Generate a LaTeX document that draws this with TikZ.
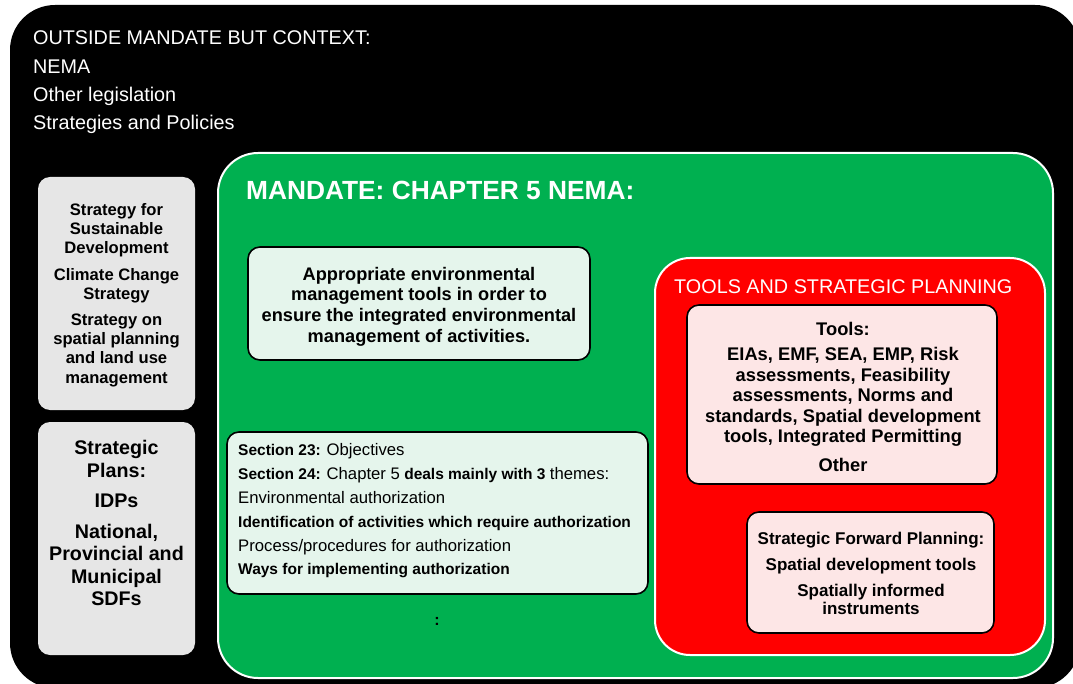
\documentclass[tikz,border=0pt]{standalone}
\usepackage{fontspec}
\setmainfont{Liberation Sans}
\definecolor{mgreen}{HTML}{00B050}
\definecolor{mred}{HTML}{FF0000}
\definecolor{bgray}{HTML}{E6E6E6}
\definecolor{mint}{HTML}{E5F5EC}
\definecolor{pinkbox}{HTML}{FDE6E6}
\newcommand{\regtxt}[1]{{\fontsize{16.7}{23.8}\selectfont #1}}
\begin{document}
\begin{tikzpicture}[x=1pt,y=-1pt,
  panel/.style={inner sep=0pt, rounded corners=#1},
  graybox/.style={fill=bgray, rounded corners=12pt, inner sep=0pt},
  framebox/.style={draw=black, line width=1.6pt, rounded corners=12pt, inner sep=0pt},
  txt/.style={align=center, inner sep=0pt, text=black},
]
\useasboundingbox (0,0) rectangle (1073,684);
\clip (0,0) rectangle (1073,684);
\fill[white] (0,0) rectangle (1073,684);

% outer context panel
\node[panel=45pt, fill=black, minimum width=1070, minimum height=683] (outer) at (545,346.5) {};
\node[anchor=west, align=left, inner sep=0pt, text=white,
      font=\fontsize{19.8}{28.4}\selectfont] (ctx) at (33,82.5)
  {OUTSIDE MANDATE BUT CONTEXT:\\NEMA\\Other legislation\\Strategies and Policies};

% left gray boxes
\node[graybox, minimum width=157, minimum height=233] (g1) at (116.5,293.5) {};
\node[txt, font=\bfseries\fontsize{16.6}{19.2}\selectfont] (g1t) at (116.5,295)
  {Strategy for\\Sustainable\\Development\\[7pt]Climate Change\\Strategy\\[7pt]Strategy on\\spatial planning\\and land use\\management};
\node[graybox, minimum width=157, minimum height=233] (g2) at (116.5,538.5) {};
\node[txt, font=\bfseries\fontsize{19.7}{22.5}\selectfont] (g2t) at (116.5,523)
  {Strategic\\Plans:\\[8pt]IDPs\\[8pt]National,\\Provincial and\\Municipal\\SDFs};

% mandate panel
\node[panel=40pt, fill=mgreen, draw=white, line width=2pt, minimum width=835, minimum height=525] (mandate) at (635.5,415.5) {};
\node[anchor=west, inner sep=0pt, text=white, font=\bfseries\fontsize{26.3}{30}\selectfont] (mtitle) at (246,190)
  {MANDATE: CHAPTER 5 NEMA:};

\node[framebox, fill=mint, minimum width=342, minimum height=113] (approp) at (419,303.5) {};
\node[txt, font=\bfseries\fontsize{18.2}{20.7}\selectfont] (appropt) at (419,306.5)
  {Appropriate environmental\\management tools in order to\\ensure the integrated environmental\\management of activities.};

\node[framebox, fill=mint, minimum width=421, minimum height=162] (sect) at (437.5,513) {};
\node[anchor=west, align=left, inner sep=0pt, font=\bfseries\fontsize{15.5}{23.8}\selectfont] (sectt) at (238,511)
  {Section 23: \regtxt{\mdseries Objectives}\\
   Section 24: \regtxt{\mdseries Chapter 5} deals mainly with 3 \regtxt{\mdseries themes:}\\
   \regtxt{\mdseries Environmental authorization}\\
   Identification of activities which require authorization\\
   \regtxt{\mdseries Process/procedures for authorization}\\
   Ways for implementing authorization};
\node[txt, font=\bfseries\fontsize{16}{19}\selectfont] (colon) at (437,621) {:};

% tools panel
\node[panel=35pt, fill=mred, draw=white, line width=2pt, minimum width=390, minimum height=397] (toolsp) at (850,456.5) {};
\node[anchor=west, inner sep=0pt, text=white, font=\fontsize{19.8}{24}\selectfont] (ttitle) at (674,287)
  {TOOLS AND STRATEGIC PLANNING};

\node[framebox, fill=pinkbox, minimum width=310, minimum height=179] (tools) at (842,394.5) {};
\node[txt, font=\bfseries\fontsize{18.3}{20.5}\selectfont] (toolst) at (843,396.5)
  {Tools:\\[5pt]EIAs, EMF, SEA, EMP, Risk\\assessments, Feasibility\\assessments, Norms and\\standards, Spatial development\\tools, Integrated Permitting\\[8pt]Other};

\node[framebox, fill=pinkbox, minimum width=247, minimum height=121] (sfp) at (870.5,572.5) {};
\node[txt, font=\bfseries\fontsize{17}{18}\selectfont] (sfpt) at (871,573.5)
  {Strategic Forward Planning:\\[8pt]Spatial development tools\\[8pt]Spatially informed\\instruments};
\end{tikzpicture}
\end{document}
